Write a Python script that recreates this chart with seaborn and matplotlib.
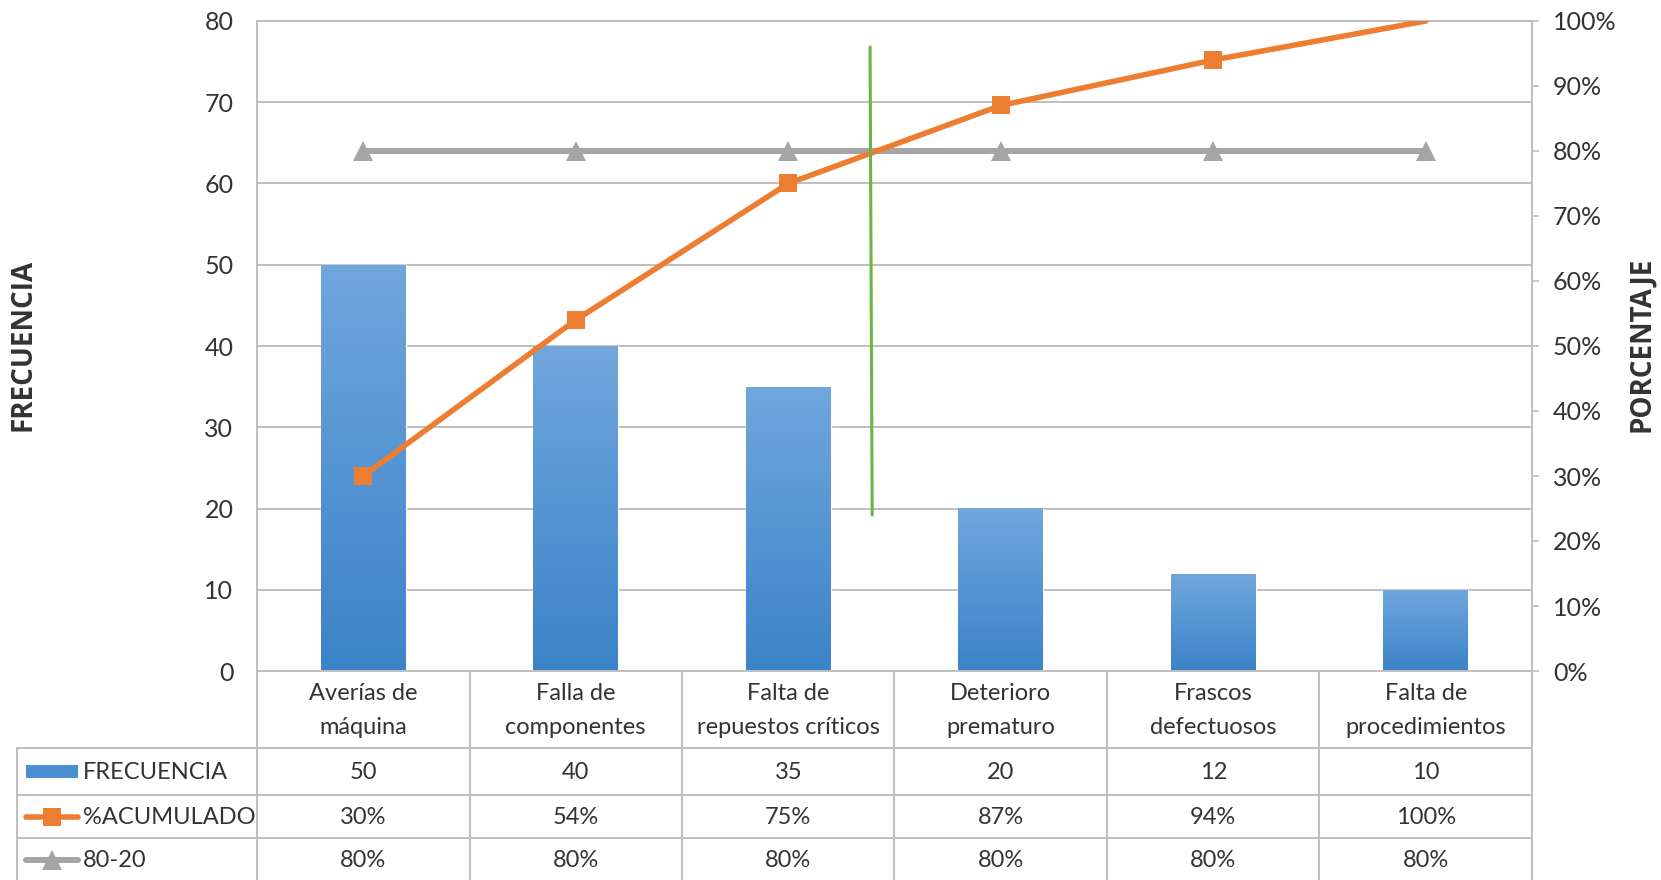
import numpy as np
import pandas as pd
import matplotlib
matplotlib.use("Agg")
import matplotlib.pyplot as plt
import seaborn as sns
from matplotlib.colors import LinearSegmentedColormap
from matplotlib.patches import Rectangle
from matplotlib.ticker import FuncFormatter

# ---- datos ----
categorias = [
    "Averías de\nmáquina",
    "Falla de\ncomponentes",
    "Falta de\nrepuestos críticos",
    "Deterioro\nprematuro",
    "Frascos\ndefectuosos",
    "Falta de\nprocedimientos",
]
frecuencia = [50, 40, 35, 20, 12, 10]
acumulado = [30, 54, 75, 87, 94, 100]      # %
linea_80_20 = [80, 80, 80, 80, 80, 80]     # %
ticks_frecuencia = [0, 10, 20, 30, 40, 50, 60, 70, 80]
ticks_porcentaje = [0, 10, 20, 30, 40, 50, 60, 70, 80, 90, 100]
# línea de corte trazada a mano (posición de categoría, porcentaje)
corte_x = [2.385, 2.395]
corte_pct = [96, 24]

# ---- estilo ----
sns.set_theme(style="white")
plt.rcParams["font.family"] = ["Lato", "DejaVu Sans"]
TXT = "#333333"
GRID = "#bfbfbf"
AZUL_ARRIBA = "#70a7dd"
AZUL_ABAJO = "#3b83c8"
NARANJA = "#ed7d31"
GRIS = "#a5a5a5"
VERDE = "#6cb447"
FS_TICK = 18
FS_TAB = 17

W, H = 1661, 880
fig = plt.figure(figsize=(W / 100, H / 100), dpi=100)
fig.patch.set_facecolor("white")

x0, x1 = 257, 1532
y_top, y_base = 21, 671
L, B = x0 / W, (H - y_base) / H
Wd, Hd = (x1 - x0) / W, (y_base - y_top) / H

ax = fig.add_axes([L, B, Wd, Hd])
df = pd.DataFrame({"causa": categorias, "frecuencia": frecuencia})
sns.barplot(data=df, x="causa", y="frecuencia", ax=ax, color=AZUL_ABAJO,
            width=0.4, saturation=1, zorder=2)

# relleno degradado de las barras
cmap = LinearSegmentedColormap.from_list("azul", [AZUL_ABAJO, AZUL_ARRIBA])
grad = np.linspace(0, 1, 256).reshape(-1, 1)
for p in list(ax.patches):
    bx, by = p.get_x(), p.get_y()
    bw, bh = p.get_width(), p.get_height()
    im = ax.imshow(grad, extent=[bx, bx + bw, by, by + bh], origin="lower",
                   aspect="auto", cmap=cmap, zorder=2.5)
    im.set_clip_path(p)

ax.set_xlim(-0.5, len(categorias) - 0.5)
ax.set_ylim(0, 80)
ax.set_yticks(ticks_frecuencia)
ax.set_xticks([])
ax.set_xlabel("")
ax.set_ylabel("")
ax.yaxis.grid(True, color=GRID, lw=1.4)
ax.set_axisbelow(True)
for s in ax.spines.values():
    s.set_color(GRID)
    s.set_linewidth(1.4)
ax.tick_params(axis="y", length=0, pad=17, labelsize=FS_TICK, labelcolor=TXT)

# eje secundario de porcentaje
ax2 = ax.twinx()
xs = np.arange(len(categorias))
sns.lineplot(x=xs, y=acumulado, ax=ax2, color=NARANJA, lw=4,
             marker="s", markersize=13, markeredgewidth=0,
             markevery=[0, 1, 2, 3, 4], zorder=3)
sns.lineplot(x=xs, y=linea_80_20, ax=ax2, color=GRIS, lw=4.3,
             marker="^", markersize=14, markeredgewidth=0, zorder=2.8)
ax2.plot(corte_x, corte_pct, color=VERDE, lw=2.2, zorder=4)
ax2.set_ylim(0, 100)
ax2.set_yticks(ticks_porcentaje)
ax2.yaxis.set_major_formatter(FuncFormatter(lambda v, _: f"{v:.0f}%"))
ax2.set_ylabel("")
for s in ax2.spines.values():
    s.set_visible(False)
ax2.tick_params(axis="y", length=5, width=1.2, color=GRID, pad=10,
                labelsize=FS_TICK, labelcolor=TXT, direction="out")

titulo_kw = dict(rotation=90, ha="center", va="center", fontsize=20,
                 fontweight="bold", color=TXT,
                 family=["Open Sans", "DejaVu Sans"])
fig.text(23 / W, 1 - 345 / H, "FRECUENCIA", **titulo_kw)
fig.text(1642 / W, 1 - 344 / H, "PORCENTAJE", **titulo_kw)

# ---- tabla de datos bajo el gráfico ----
tab_h = H - y_base
tab = fig.add_axes([L, 0, Wd, tab_h / H])
tab.set_xlim(-0.5, len(categorias) - 0.5)
tab.set_ylim(tab_h, 0)
tab.axis("off")

px = (x1 - x0) / len(categorias)          # píxeles por categoría


def to_x(p):
    return -0.5 + (p - x0) / px


x_left = to_x(17)
filas = [77, 124, 167]
for yy in filas:
    tab.plot([x_left, len(categorias) - 0.5], [yy, yy], color=GRID, lw=1.4,
             clip_on=False)
for i in range(len(categorias) + 1):
    tab.plot([i - 0.5, i - 0.5], [0, tab_h], color=GRID, lw=1.4, clip_on=False)
tab.plot([x_left, x_left], [filas[0], tab_h], color=GRID, lw=1.4, clip_on=False)

for i, cat in enumerate(categorias):
    l1, l2 = cat.split("\n")
    tab.text(i, 22, l1, ha="center", va="center", fontsize=FS_TAB, color=TXT)
    tab.text(i, 56, l2, ha="center", va="center", fontsize=FS_TAB, color=TXT)
    tab.text(i, 101, f"{frecuencia[i]}", ha="center", va="center", fontsize=FS_TAB, color=TXT)
    tab.text(i, 146, f"{acumulado[i]}%", ha="center", va="center", fontsize=FS_TAB, color=TXT)
    tab.text(i, 189, f"{linea_80_20[i]}%", ha="center", va="center", fontsize=FS_TAB, color=TXT)

# claves de leyenda dentro de la tabla
kx0, kx1 = to_x(26), to_x(78)
kxm = (kx0 + kx1) / 2
tab.add_patch(Rectangle((kx0, 94), kx1 - kx0, 13, facecolor="#4a8fd2",
                        edgecolor="none", clip_on=False))
tab.plot([kx0, kx1], [146, 146], color=NARANJA, lw=4, clip_on=False)
tab.plot([kxm], [146], marker="s", color=NARANJA, markersize=13,
         markeredgewidth=0, clip_on=False)
tab.plot([kx0, kx1], [189, 189], color=GRIS, lw=4.3, clip_on=False)
tab.plot([kxm], [189], marker="^", color=GRIS, markersize=14,
         markeredgewidth=0, clip_on=False)
tx = to_x(83)
tab.text(tx, 101, "FRECUENCIA", ha="left", va="center", fontsize=FS_TAB, color=TXT)
tab.text(tx, 146, "%ACUMULADO", ha="left", va="center", fontsize=FS_TAB, color=TXT)
tab.text(tx, 189, "80-20", ha="left", va="center", fontsize=FS_TAB, color=TXT)

fig.savefig("out.png", dpi=100, facecolor="white")
